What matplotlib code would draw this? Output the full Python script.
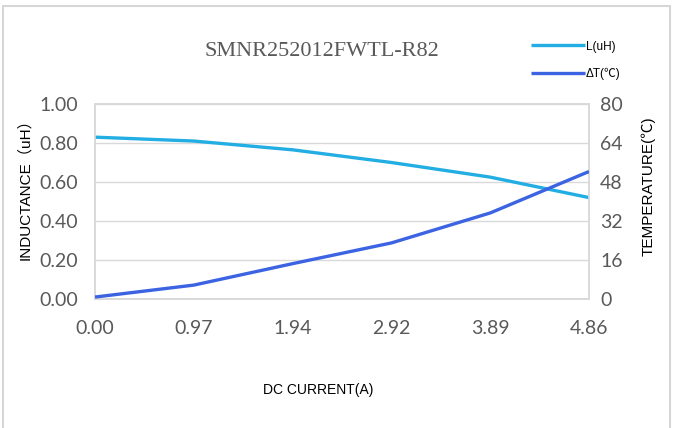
import matplotlib
matplotlib.use("Agg")
import matplotlib.pyplot as plt
from matplotlib.patches import Rectangle

# data
current = [0.00, 0.97, 1.94, 2.92, 3.89, 4.86]
x_labels = ["0.00", "0.97", "1.94", "2.92", "3.89", "4.86"]
inductance = [0.83, 0.81, 0.765, 0.70, 0.625, 0.52]
delta_t = [0.8, 5.7, 14.5, 23.0, 35.3, 52.3]

l_ticks = [0.0, 0.2, 0.4, 0.6, 0.8, 1.0]
t_ticks = [0, 16, 32, 48, 64, 80]

c_l = "#22aee3"
c_t = "#3b63e2"
grid_c = "#d9d9d9"
tick_c = "#595959"
cjk = ["Liberation Sans", "Noto Sans CJK SC"]

fig = plt.figure(figsize=(6.76, 4.28), dpi=100)
fig.patches.append(Rectangle((3/676, -0.01), 667/676, 1.01 - 6/428, transform=fig.transFigure,
                             fill=False, ec="#d6d6d6", lw=1.5))

ax = fig.add_axes([95/676, 1 - 299/428, 494/676, 195/428])
ax2 = ax.twinx()

idx = list(range(len(current)))
ax.plot(idx, inductance, color=c_l, lw=2.4, label="L(uH)", solid_capstyle="butt", zorder=3)
ax2.plot(idx, delta_t, color=c_t, lw=2.4, label="ΔT(℃)", solid_capstyle="butt", zorder=3)

ax.set_xlim(0, len(current) - 1)
ax.set_ylim(0, 1.0)
ax2.set_ylim(0, 80)
ax.set_xticks(idx)
ax.set_xticklabels(x_labels)
ax.set_yticks(l_ticks)
ax.set_yticklabels(["%.2f" % v for v in l_ticks])
ax2.set_yticks(t_ticks)

for a in (ax, ax2):
    for s in a.spines.values():
        s.set_color(grid_c)
        s.set_linewidth(1.2)
    a.tick_params(length=0, colors=tick_c, labelsize=14)
    for lab in a.get_xticklabels() + a.get_yticklabels():
        lab.set_family("Lato")
ax.tick_params(axis="x", pad=15)
ax.tick_params(axis="y", pad=12)
ax2.tick_params(axis="y", pad=8)
ax.grid(axis="y", color=grid_c, lw=1.0)
ax.set_axisbelow(True)

ax.set_ylabel("INDUCTANCE（uH）", family=cjk, fontsize=11)
ax.yaxis.set_label_coords((32 - 95) / 494, (299 - 186) / 195)
ax2.set_ylabel("TEMPERATURE(℃)", family=cjk, fontsize=11)
ax2.yaxis.set_label_coords((641 - 95) / 494, (299 - 186) / 195)
ax.set_xlabel("DC CURRENT(A)", family="Liberation Sans", fontsize=10)
ax.xaxis.set_label_coords((318 - 95) / 494, -84 / 195)

fig.text(322/676, 1 - 52/428, "SMNR252012FWTL-R82", family="Liberation Serif",
         fontsize=16, color=tick_c, ha="center", va="center")

h1, l1 = ax.get_legend_handles_labels()
h2, l2 = ax2.get_legend_handles_labels()
fig.legend(h1 + h2, l1 + l2, loc="upper left", bbox_to_anchor=(520/676, 1 - 30/428),
           frameon=False, handlelength=4.6, handletextpad=0.1,
           labelspacing=1.3, prop={"family": cjk, "size": 8.5})

fig.savefig("out.png", dpi=100, facecolor="white")
